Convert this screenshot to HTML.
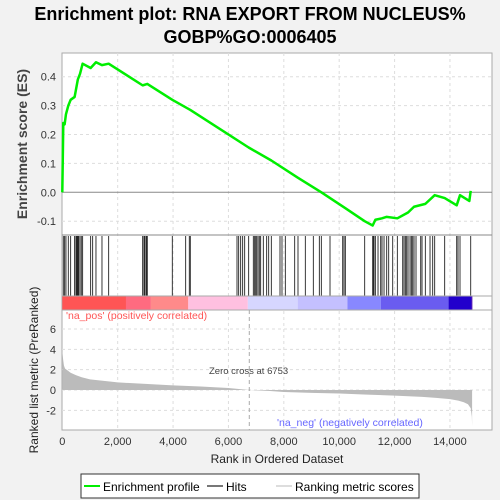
<!DOCTYPE html>
<html><head><meta charset="utf-8"><style>
body{margin:0;background:#f2f2f2;font-family:"Liberation Sans",sans-serif;}
svg{display:block}
</style></head><body>
<svg width="500" height="500" xmlns="http://www.w3.org/2000/svg" font-family="Liberation Sans, sans-serif">
<rect x="0" y="0" width="500" height="500" fill="#f2f2f2"/>
<text x="250" y="20" text-anchor="middle" font-size="18" font-weight="bold">Enrichment plot: RNA EXPORT FROM NUCLEUS%</text>
<text x="250" y="43" text-anchor="middle" font-size="18" font-weight="bold">GOBP%GO:0006405</text>
<rect x="62" y="53" width="430" height="377" fill="#fff" stroke="#aaa"/>
<g id="grid"></g>
<g id="band"></g>
<g id="hits"></g>
<g id="metric"></g>
<g id="es"></g>
<g id="axes"></g>
<line x1="62" y1="235" x2="492" y2="235" stroke="#888"/>
<line x1="62" y1="296" x2="492" y2="296" stroke="#aaa"/>
<line x1="62" y1="310" x2="492" y2="310" stroke="#aaa"/>
<text x="66" y="319" font-size="10.5" fill="#ff5555">'na_pos' (positively correlated)</text>
<text x="277" y="426" font-size="10.5" fill="#6666ff">'na_neg' (negatively correlated)</text>
<text x="209" y="374" font-size="9.5" fill="#444">Zero cross at 6753</text>
<text transform="translate(27,144) rotate(-90)" text-anchor="middle" font-size="14" font-weight="bold" fill="#444">Enrichment score (ES)</text>
<text transform="translate(38,370) rotate(-90)" text-anchor="middle" font-size="12" fill="#222">Ranked list metric (PreRanked)</text>
<text x="277" y="463" text-anchor="middle" font-size="12" fill="#222">Rank in Ordered Dataset</text>
<g>
<rect x="81" y="474" width="338" height="24" fill="#fff" stroke="#333"/>
<line x1="84" y1="486" x2="100" y2="486" stroke="#00ee00" stroke-width="2"/>
<text x="103" y="491" font-size="12">Enrichment profile</text>
<line x1="207" y1="486" x2="223" y2="486" stroke="#777" stroke-width="2"/>
<text x="226" y="491" font-size="12">Hits</text>
<line x1="276" y1="486" x2="292" y2="486" stroke="#ddd" stroke-width="2"/>
<text x="295" y="491" font-size="12">Ranking metric scores</text>
</g>
</svg>
<script>
const hitRanks=[36,84,132,217,301,445,494,518,542,566,590,638,686,734,1023,1096,1216,1433,1674,2902,2950,2974,3022,3046,3070,3973,4455,4587,4623,6309,6369,6441,6513,6586,6730,6899,6947,6971,7019,7067,7115,7163,7260,7380,7453,7549,7862,7934,8055,8392,8512,8777,9066,9283,9355,9668,10126,10174,10222,10920,11209,11233,11257,11306,11402,11498,11546,11619,11715,11787,11932,12100,12293,12341,12389,12437,12486,12558,12606,12654,12702,12774,12943,12991,13111,13280,13376,13448,13809,14243,14291,14363,14749];
const esRanks=[0,36,84,132,217,301,445,560,640,734,1023,1216,1433,1674,2902,3070,3973,4623,6730,7549,8512,9355,10222,10920,11209,11306,11546,11715,12100,12486,12702,13111,13448,13809,14243,14363,14700,14749];
const esValues=[0,0.24,0.235,0.27,0.30,0.32,0.33,0.39,0.41,0.445,0.43,0.45,0.44,0.445,0.37,0.375,0.32,0.285,0.155,0.11,0.05,0.0,-0.055,-0.10,-0.115,-0.095,-0.09,-0.085,-0.09,-0.07,-0.05,-0.04,-0.01,-0.02,-0.045,-0.01,-0.03,0.005];
const metricRanks=[0,30,60,100,200,300,500,700,1000,1500,2000,3000,4000,5000,6000,6753,7500,8000,9000,10000,11000,12000,13000,13500,14000,14300,14500,14650,14750,14790,14800];
const metricValues=[3.8,3.0,2.4,2.1,1.9,1.7,1.45,1.25,1.05,0.9,0.75,0.6,0.45,0.35,0.2,0,-0.1,-0.2,-0.28,-0.35,-0.45,-0.55,-0.68,-0.78,-0.9,-1.05,-1.2,-1.4,-1.8,-2.6,-3.5];
const xTicks=[0,2000,4000,6000,8000,10000,12000,14000];
const xTickLabels=["0","2,000","4,000","6,000","8,000","10,000","12,000","14,000"];
const esTicks=[-0.1,0,0.1,0.2,0.3,0.4];
const esTickLabels=["-0.1","0.0","0.1","0.2","0.3","0.4"];
const mTicks=[-2,0,2,4,6];
const mTickLabels=["-2","0","2","4","6"];
const bandColors=["#f55","#ff6b80","#ff8a8a","#ffc0e0","#d6d6ff","#c4c0ff","#8888ff","#6a5cf0","#2200cc","#5511aa"];
const bandEnds=[2300,3200,4550,6700,8500,10300,11500,13950,14780,14810];
const zeroCross=6753;
const NS="http://www.w3.org/2000/svg";
const X=r=>62.3+r*0.02769;
const YE=v=>192.3-v*289;
const YM=v=>390-v*10.17;
function mk(tag,attrs,parent){const e=document.createElementNS(NS,tag);for(const k in attrs)e.setAttribute(k,attrs[k]);document.getElementById(parent).appendChild(e);return e;}
xTicks.forEach((t,i)=>{
 if(t>0){const g=mk('line',{x1:X(t),x2:X(t),y1:53,y2:430,stroke:'#ddd','stroke-dasharray':'3,3'},'grid');
 
 }
 const tx=mk('text',{x:X(t),y:445,'text-anchor':'middle','font-size':'11',fill:'#333'},'axes');tx.textContent=xTickLabels[i];
 
 
});
esTicks.forEach((t,i)=>{
 const g=mk('line',{x1:62,x2:492,y1:YE(t),y2:YE(t),stroke:t===0?'#888':'#ddd','stroke-dasharray':t===0?'':'3,3'},'grid');
 
 
 const tx=mk('text',{x:56,y:YE(t)+4,'text-anchor':'end','font-size':'11',fill:'#333'},'axes');tx.textContent=esTickLabels[i];
 
 
});
mTicks.forEach((t,i)=>{
 const g=mk('line',{x1:62,x2:492,y1:YM(t),y2:YM(t),stroke:'#ddd','stroke-dasharray':'3,3'},'grid');
 
 
 const tx=mk('text',{x:56,y:YM(t)+4,'text-anchor':'end','font-size':'11',fill:'#333'},'axes');tx.textContent=mTickLabels[i];
 
 
});
const zl=mk('line',{x1:X(zeroCross),x2:X(zeroCross),y1:310,y2:430,stroke:'#aaa','stroke-dasharray':'4,3'},'grid');


let prev=0;
bandColors.forEach((c,i)=>{
 const r=mk('rect',{x:X(prev),y:296,width:X(bandEnds[i])-X(prev),height:14,fill:c},'band');
 
 
 prev=bandEnds[i];
});
hitRanks.forEach(h=>{
 const l=mk('line',{x1:X(h),x2:X(h),y1:236,y2:296,stroke:'#222','stroke-width':'0.9'},'hits');
 
 
});
let d='M'+X(0)+','+YM(0);
metricRanks.forEach((r,i)=>{d+=' L'+X(r)+','+YM(metricValues[i]);});
d+=' L'+X(metricRanks[metricRanks.length-1])+','+YM(0)+' Z';
const mp=mk('path',{d:d,fill:'#bbb',stroke:'none'},'metric');


const pts=esRanks.map((r,i)=>X(r)+','+YE(esValues[i])).join(' ');
const pl=mk('polyline',{points:pts,fill:'none',stroke:'#00ee00','stroke-width':'2.5','stroke-linejoin':'round'},'es');


</script>
</body></html>
